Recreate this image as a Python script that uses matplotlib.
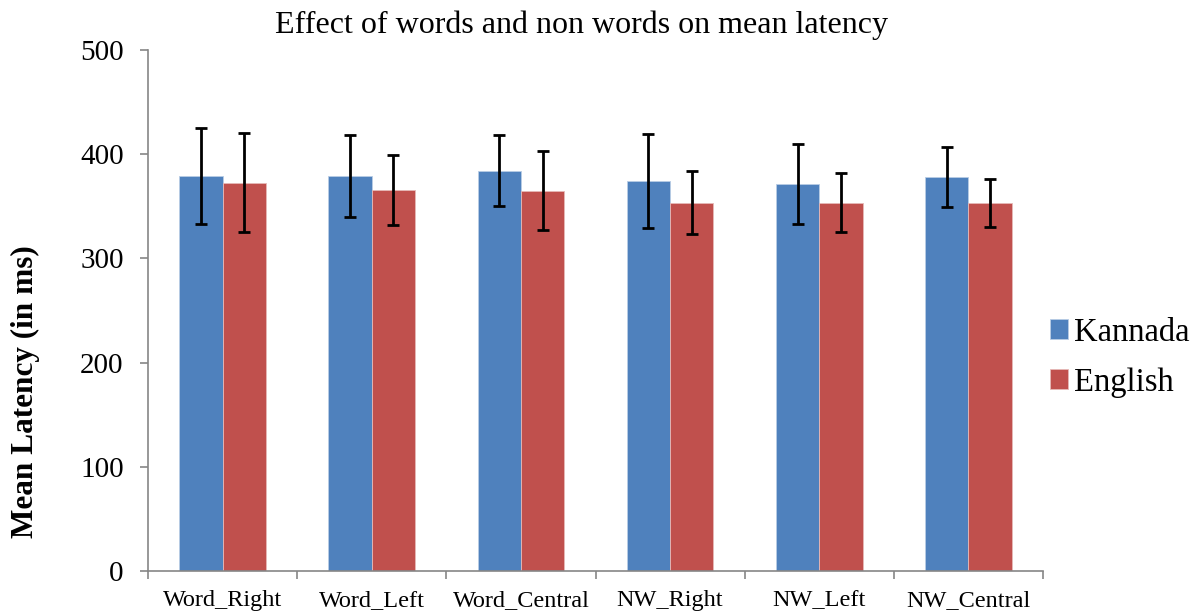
import matplotlib
matplotlib.use("Agg")
import matplotlib.pyplot as plt
import numpy as np

categories = ["Word_Right", "Word_Left", "Word_Central", "NW_Right", "NW_Left", "NW_Central"]
kannada_mean = [379, 379, 384, 374, 371.5, 378]
kannada_err = [46, 39, 34, 45, 38.5, 29]
english_mean = [372.5, 365.5, 365, 353.5, 353.5, 353]
english_err = [47.5, 33.5, 38, 30.5, 28.5, 23]
yticks = [0, 100, 200, 300, 400, 500]

plt.rcParams["font.family"] = ["Liberation Serif", "DejaVu Serif"]

fig = plt.figure(figsize=(11.95, 6.15), dpi=100)
ax = fig.add_axes([148 / 1195, 1 - 571 / 615, (1043 - 148) / 1195, (571 - 50) / 615])

x = np.arange(len(categories))
w = 0.29
err_kw = dict(ecolor="black", elinewidth=2, capsize=4.5, capthick=2)
ax.bar(x - w / 2, kannada_mean, w, yerr=kannada_err, color="#4F81BD",
       edgecolor="#B9CDE5", linewidth=0.6, label="Kannada", error_kw=err_kw)
ax.bar(x + w / 2, english_mean, w, yerr=english_err, color="#C0504D",
       edgecolor="#E6B9B8", linewidth=0.6, label="English", error_kw=err_kw)

ax.set_xlim(-0.5, len(categories) - 0.5)
ax.set_ylim(0, 500)
ax.set_yticks(yticks)
ax.set_yticklabels([str(v) for v in yticks], fontsize=21)

# category labels centred, tick marks at group boundaries
ax.set_xticks(np.arange(len(categories) + 1) - 0.5)
ax.set_xticklabels([])
ax.set_xticks(x, minor=True)
ax.set_xticklabels(categories, minor=True, fontsize=17.5)
ax.tick_params(axis="x", which="minor", length=0, pad=14)
ax.tick_params(axis="x", which="major", length=6, color="#868686", width=1.2)
ax.tick_params(axis="y", length=6, color="#868686", width=1.2, pad=11.5)

for s in ["top", "right"]:
    ax.spines[s].set_visible(False)
for s in ["left", "bottom"]:
    ax.spines[s].set_color("#868686")
    ax.spines[s].set_linewidth(1.2)

ax.set_ylabel("Mean Latency (in ms)", fontsize=22.5, fontweight="bold")
ax.yaxis.set_label_coords(-0.121, 0.344)
ax.set_title("Effect of words and non words on mean latency", fontsize=23, pad=12, x=0.4844)

ax.legend(loc="center left", bbox_to_anchor=(0.982, 0.41), frameon=False,
          fontsize=23.5, handlelength=0.55, handleheight=0.55, handletextpad=0.2,
          labelspacing=0.6, borderaxespad=0.3)

fig.savefig("out.png", dpi=100)
